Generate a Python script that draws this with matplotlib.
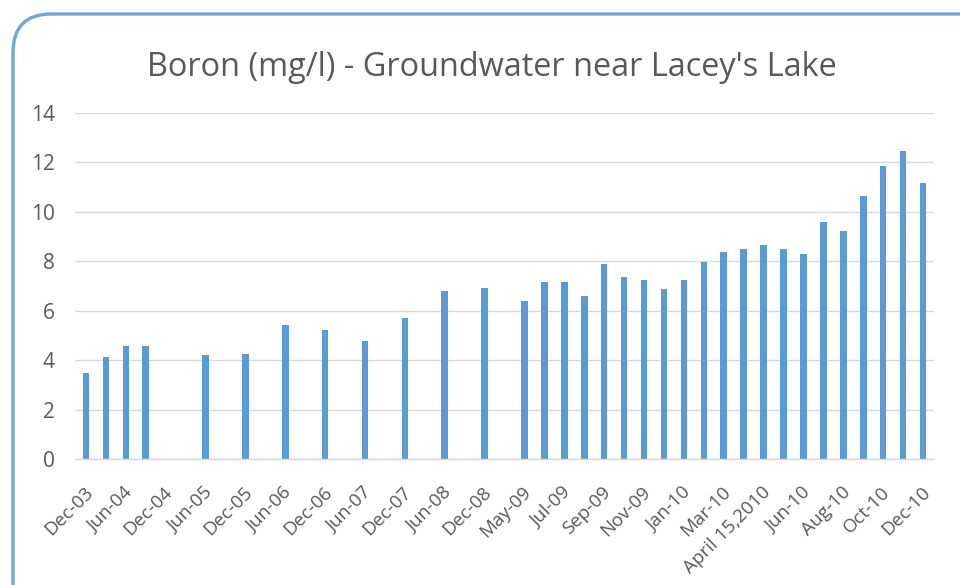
import matplotlib
matplotlib.use("Agg")
import matplotlib.pyplot as plt
import matplotlib.transforms as mtransforms
import numpy as np
from matplotlib.patches import FancyBboxPatch

# ---- data ----
categories = [
    "Dec-03", "Mar-04", "Jun-04", "Sep-04", "Dec-04", "Mar-05", "Jun-05", "Sep-05",
    "Dec-05", "Mar-06", "Jun-06", "Sep-06", "Dec-06", "Mar-07", "Jun-07", "Sep-07",
    "Dec-07", "Mar-08", "Jun-08", "Sep-08", "Dec-08", "Mar-09", "May-09", "Jun-09",
    "Jul-09", "Aug-09", "Sep-09", "Oct-09", "Nov-09", "Dec-09", "Jan-10", "Feb-10",
    "Mar-10", "Apr-10", "April 15,2010", "May-10", "Jun-10", "Jul-10", "Aug-10",
    "Sep-10", "Oct-10", "Nov-10", "Dec-10",
]
boron = [
    3.47, 4.11, 4.57, 4.57, np.nan, np.nan, 4.20, np.nan,
    4.26, np.nan, 5.42, np.nan, 5.22, np.nan, 4.78, np.nan,
    5.71, np.nan, 6.79, np.nan, 6.90, np.nan, 6.39, 7.16,
    7.16, 6.59, 7.88, 7.37, 7.25, 6.88, 7.24, 7.97,
    8.38, 8.49, 8.64, 8.49, 8.28, 9.57, 9.22,
    10.65, 11.86, 12.46, 11.17,
]
yticks = [0, 2, 4, 6, 8, 10, 12, 14]
title = "Boron (mg/l) - Groundwater near Lacey's Lake"

TXT = "#595959"
BAR = "#5B9BD5"
GRID = "#D9D9D9"

fig = plt.figure(figsize=(9.6, 5.85), dpi=100)
W, H = 960, 585
ax = fig.add_axes([75 / W, 1 - 459 / H, (934 - 75) / W, (459 - 113) / H])

x = np.arange(len(categories))
ax.bar(x, boron, width=0.33, color=BAR, zorder=3)

ax.set_xlim(-0.55, len(categories) - 1 + 0.55)
ax.set_ylim(0, 14)
ax.set_yticks(yticks)
ax.set_yticklabels([str(v) for v in yticks], fontsize=15, color=TXT, family="Open Sans")
ax.yaxis.grid(True, color=GRID, linewidth=1, zorder=0)
ax.tick_params(axis="both", length=0)
ax.tick_params(axis="y", pad=14.5)

shown = x[::2]
ax.set_xticks(shown)
labels = ax.set_xticklabels([categories[i] for i in shown], rotation=45, ha="right",
                            va="center", rotation_mode="anchor", fontsize=13.5,
                            color=TXT, family="Open Sans")
ax.tick_params(axis="x", pad=22)
offset = mtransforms.ScaledTranslation(4 / 100, 0, fig.dpi_scale_trans)
for lab in ax.get_xticklabels():
    lab.set_transform(lab.get_transform() + offset)

for s in ["top", "right", "left"]:
    ax.spines[s].set_visible(False)
ax.spines["bottom"].set_color(GRID)
ax.spines["bottom"].set_linewidth(1)
ax.spines["bottom"].set_zorder(4)

fig.text(492 / W, 1 - 76 / H, title, ha="center", va="baseline", fontsize=23.4,
         color=TXT, family="Open Sans")

# rounded border (cut at right and bottom)
box = FancyBboxPatch((13 / W, -0.2), 1.2, (1 - 14 / H) + 0.2,
                     boxstyle="round,pad=0,rounding_size=0.04",
                     transform=fig.transFigure, facecolor="none",
                     edgecolor="#6FA6DB", linewidth=2.4, mutation_aspect=W / H)
fig.add_artist(box)

fig.savefig("out.png", dpi=100)
